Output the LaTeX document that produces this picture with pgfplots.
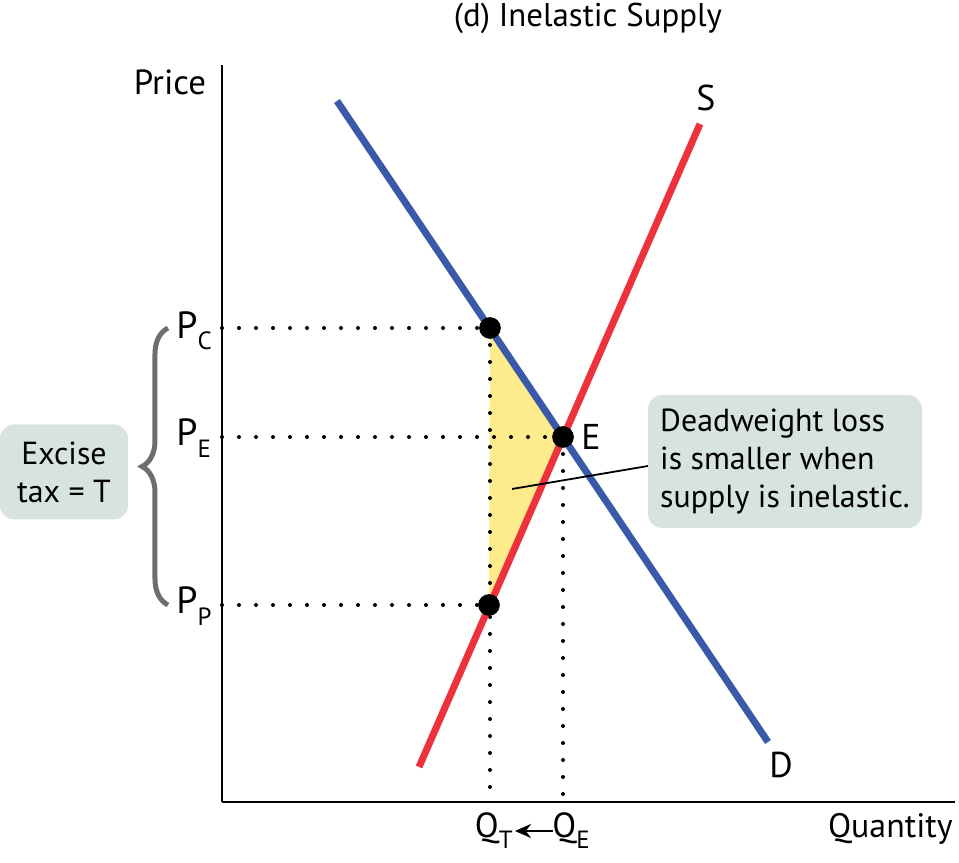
\documentclass[border=0pt]{standalone}
\usepackage{pgfplots}
\pgfplotsset{compat=1.18}
\usepackage{fontspec}
\setmainfont{PT Sans}
\usetikzlibrary{decorations.pathreplacing,arrows.meta}
\definecolor{dblue}{RGB}{58,89,168}
\definecolor{dred}{RGB}{237,50,62}
\definecolor{dyellow}{RGB}{253,235,140}
\definecolor{boxc}{RGB}{215,227,224}
\definecolor{braceg}{RGB}{109,110,113}
\newcommand{\sub}[1]{\raisebox{-0.3em}{\fontsize{12.5}{13}\selectfont #1}}
\begin{document}
\begin{tikzpicture}
\begin{axis}[scale only axis, width=366.5bp, height=368.5bp,
  xmin=0, xmax=733, ymin=0, ymax=737,
  axis lines=left, axis line style={line width=1bp, -},
  xtick=\empty, ytick=\empty, clip=false]
\path (axis cs:-222,-61) rectangle (axis cs:737,802);
% deadweight loss triangle
\addplot[fill=dyellow, draw=none] coordinates {(268,474) (341,365) (267,197)};
% dotted guides
\addplot[line width=2bp, line cap=round, dash pattern=on 0pt off 8.5bp] coordinates {(0,474) (268,474)};
\addplot[line width=2bp, line cap=round, dash pattern=on 0pt off 8.5bp] coordinates {(0,365) (341,365)};
\addplot[line width=2bp, line cap=round, dash pattern=on 0pt off 8.5bp] coordinates {(0,197) (267,197)};
\addplot[line width=2bp, line cap=round, dash pattern=on 0pt off 8.5bp] coordinates {(268,474) (268,0)};
\addplot[line width=2bp, line cap=round, dash pattern=on 0pt off 8.5bp] coordinates {(341,365) (341,0)};
% demand and supply
\addplot[dblue, line width=3.5bp] coordinates {(115,701) (546,60)};
\addplot[dred, line width=3.5bp] coordinates {(197,35) (478,678)};
% callout line
\addplot[black, line width=0.9bp] coordinates {(290,313) (426,336)};
% points
\addplot[only marks, mark=*, mark size=5.2bp, black] coordinates {(268,474) (341,365) (267,197)};
% labels
\node[font=\fontsize{16.5}{19}\selectfont, inner sep=0pt] at (axis cs:366,784) {(d) Inelastic Supply};
\node[font=\fontsize{17.5}{19}\selectfont, inner sep=0pt] at (axis cs:-52,720) {Price};
\node[font=\fontsize{17}{19}\selectfont, inner sep=0pt, anchor=base east] at (axis cs:731,-36) {Quantity};
\node[font=\fontsize{18}{19}\selectfont, inner sep=0pt] at (axis cs:484,704) {S};
\node[font=\fontsize{18}{19}\selectfont, inner sep=0pt] at (axis cs:559,37) {D};
\node[font=\fontsize{18}{19}\selectfont, inner sep=0pt] at (axis cs:369,365) {E};
\node[font=\fontsize{19}{19}\selectfont, anchor=west, inner sep=0pt] at (axis cs:-46,471) {P\sub{C}};
\node[font=\fontsize{19}{19}\selectfont, anchor=west, inner sep=0pt] at (axis cs:-46,364) {P\sub{E}};
\node[font=\fontsize{19}{19}\selectfont, anchor=west, inner sep=0pt] at (axis cs:-46,196) {P\sub{P}};
\node[font=\fontsize{17.5}{19}\selectfont, anchor=base east, inner sep=0pt] at (axis cs:291,-36) {Q\sub{T}};
\node[font=\fontsize{17.5}{19}\selectfont, anchor=base west, inner sep=0pt] at (axis cs:330,-36) {Q\sub{E}};
\draw[-{Stealth[length=8bp,width=7bp]}, line width=1.4bp] (axis cs:331,-29) -- (axis cs:293,-29);
% brace
\draw[decorate, decoration={brace, amplitude=13bp}, line width=2.5bp, braceg] (axis cs:-54,197) -- (axis cs:-54,474);
% boxes
\node[fill=boxc, rounded corners=7bp, minimum width=64bp, minimum height=47.5bp, align=center,
  font=\fontsize{16}{19}\selectfont, inner sep=0pt] at (axis cs:-158,330) {Excise\\tax = T};
\node[fill=boxc, rounded corners=7bp, minimum width=137bp, minimum height=66.5bp, align=left,
  font=\fontsize{16}{19}\selectfont, inner sep=0pt] at (axis cs:563,340.5) {Deadweight loss\\is smaller when\\supply is inelastic.};
\end{axis}
\end{tikzpicture}
\end{document}
